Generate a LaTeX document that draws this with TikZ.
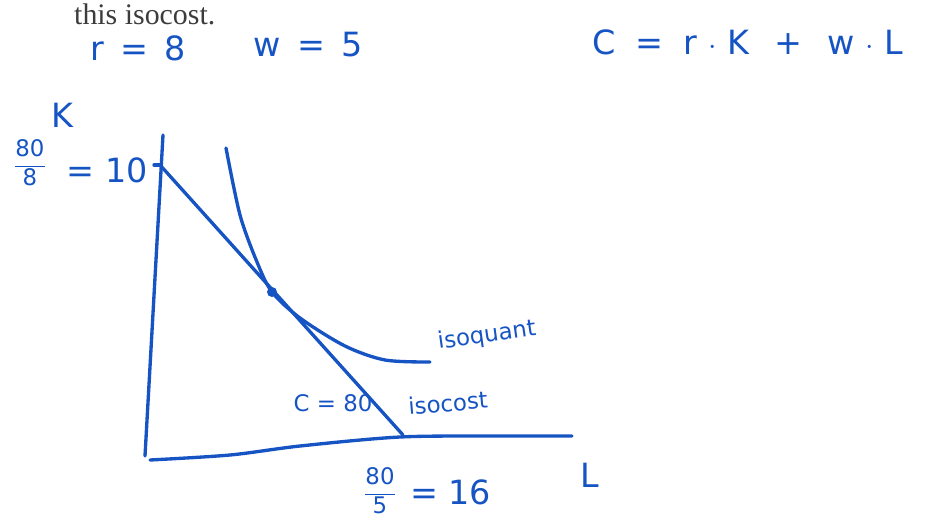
\documentclass[tikz,border=0pt]{standalone}
\usepackage{fontspec}
\setmainfont{Liberation Serif}
\newfontfamily\handfont{DejaVu Sans}
\usepackage{xcolor}
\usetikzlibrary{positioning,calc}
\definecolor{ink}{RGB}{22,84,196}
\definecolor{print}{RGB}{60,60,60}

\begin{document}
\begin{tikzpicture}[
  x=0.02cm, y=-0.02cm,
  pen/.style={draw=ink, line width=1.9pt, line cap=round, line join=round},
  hand/.style={text=ink, font=\handfont\fontsize{19}{22}\selectfont, inner sep=1pt},
  small/.style={text=ink, font=\handfont\fontsize{13}{15}\selectfont, inner sep=1pt}
]
  \useasboundingbox (0,0) rectangle (932,527);
  % printed line of the page
  \node[text=print, font=\fontsize{17}{20}\selectfont, anchor=west] (head) at (68,14) {this isocost.};
  % prices and cost equation
  \node[hand] (rprice) at (138,48) {r \,=\, 8};
  \node[hand] (wprice) at (308,45) {w \,=\, 5};
  \node[hand] (costeq) at (748,42) {C \;=\; r $\cdot$ K \;\,+\;\, w $\cdot$ L};
  % axes
  \coordinate (ytop) at (163,135);
  \coordinate (origin) at (145,456);
  \coordinate (xend) at (572,436);
  \draw[pen] (ytop) -- (origin);
  \draw[pen] plot[smooth] coordinates {(150,460) (230,455) (300,446) (400,437) (500,436) (xend)};
  \node[hand] (klab) at (62,115) {K};
  \node[hand] (llab) at (590,475) {L};
  % intercepts
  \coordinate (kint) at (160,165);
  \coordinate (lint) at (403,435);
  \draw[pen] ($(kint)+(-6,0)$) -- (kint);
  \node[small] (kfrac) at (30,163) {$\displaystyle\frac{\hbox{80}}{\hbox{8}}$};
  \node[hand, anchor=east] (kval) at (150,170) {= 10};
  \node[small] (lfrac) at (380,491) {$\displaystyle\frac{\hbox{80}}{\hbox{5}}$};
  \node[hand, anchor=west] (lval) at (408,492) {= 16};
  % isocost and isoquant
  \draw[pen] (kint) -- (lint);
  \coordinate (tang) at (272,292);
  \draw[pen] plot[smooth] coordinates {(226,148) (240,215) (257,262) (tang) (300,318) (345,346) (385,360) (430,362)};
  \fill[ink] (tang) circle (5);
  \node[small, rotate=8, anchor=west] (quantlab) at (436,343) {isoquant};
  \node[small, rotate=5] (costlab) at (448,403) {isocost};
  \node[small] (cval) at (333,403) {C = 80};
\end{tikzpicture}
\end{document}
